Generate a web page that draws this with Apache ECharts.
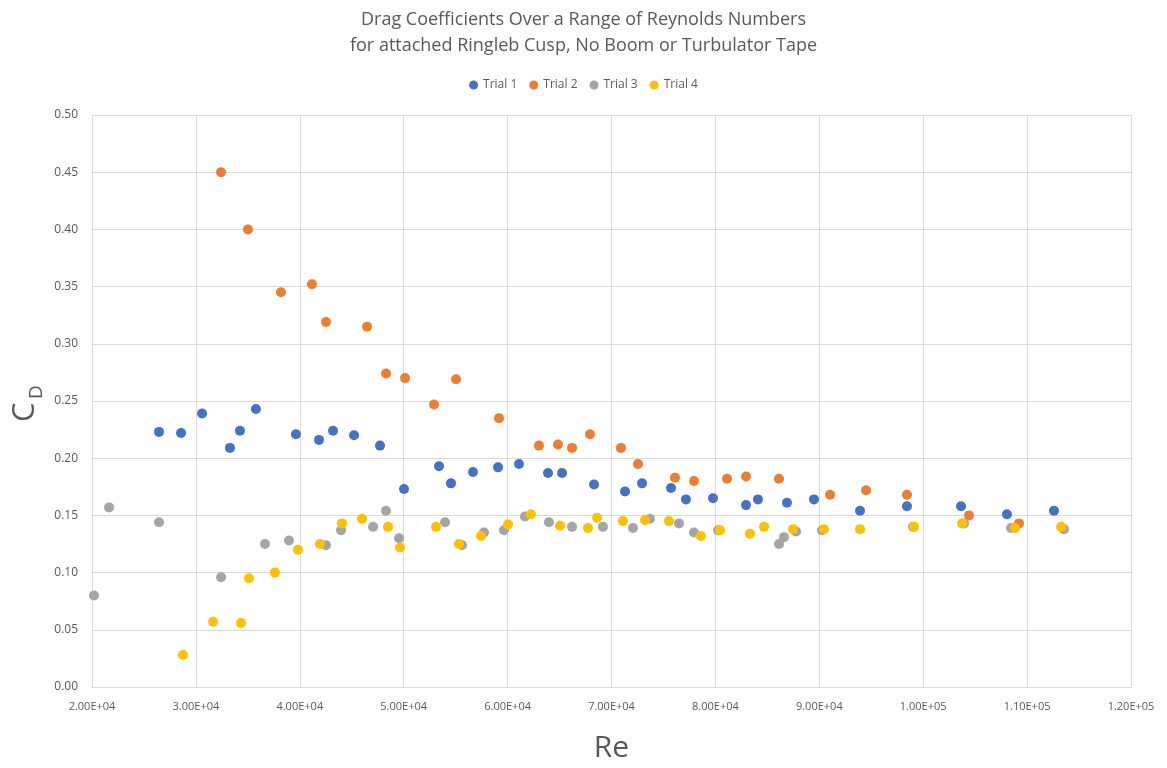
<!DOCTYPE html>
<html><head><meta charset="utf-8">
<script src="https://cdn.jsdelivr.net/npm/echarts@6/dist/echarts.min.js"></script>
<style>html,body{margin:0;padding:0;background:#fff}#c{width:1167px;height:768px}</style>
</head><body><div id="c"></div>
<script>
const trial1Re = [26450,28570,30590,33280,34240,35780,39630,41850,43200,45220,47720,50030,53400,54550,56670,59080,61100,63890,65240,68320,71300,72940,75730,77170,79770,82950,84100,86890,89490,93920,98440,103640,108060,112590];
const trial1Cd = [0.223,0.222,0.239,0.209,0.224,0.243,0.221,0.216,0.224,0.220,0.211,0.173,0.193,0.178,0.188,0.192,0.195,0.187,0.187,0.177,0.171,0.178,0.174,0.164,0.165,0.159,0.164,0.161,0.164,0.154,0.158,0.158,0.151,0.154];
const trial2Re = [32420,35010,38190,41170,42520,46470,48300,50130,52920,55040,59170,63020,64850,66200,67930,70910,72550,76110,77940,81120,82950,86120,91030,94500,98440,104410,109220];
const trial2Cd = [0.450,0.400,0.345,0.352,0.319,0.315,0.274,0.270,0.247,0.269,0.235,0.211,0.212,0.209,0.221,0.209,0.195,0.183,0.180,0.182,0.184,0.182,0.168,0.172,0.168,0.150,0.143];
const trial3Re = [20190,21640,26450,32420,36650,38960,42520,43970,47050,48300,49550,53980,55610,57730,59650,61670,63980,66200,69180,72070,73700,76500,77940,80250,86120,86600,87760,90260,99020,103930,108450,113550];
const trial3Cd = [0.080,0.157,0.144,0.096,0.125,0.128,0.124,0.137,0.140,0.154,0.130,0.144,0.124,0.135,0.137,0.149,0.144,0.140,0.140,0.139,0.147,0.143,0.135,0.137,0.125,0.131,0.136,0.137,0.140,0.143,0.139,0.138];
const trial4Re = [28760,31650,34340,35110,37610,39830,41940,44060,45990,48490,49640,53110,55320,57440,60040,62250,65040,67740,68610,71110,73220,75530,78610,80440,83330,84680,87470,90450,93920,99120,103740,108840,113270];
const trial4Cd = [0.028,0.057,0.056,0.095,0.100,0.120,0.125,0.143,0.147,0.140,0.122,0.140,0.125,0.132,0.142,0.151,0.141,0.139,0.148,0.145,0.146,0.145,0.132,0.137,0.134,0.140,0.138,0.138,0.138,0.140,0.143,0.139,0.140];
const seriesNames = ['Trial 1','Trial 2','Trial 3','Trial 4'];
const colors = ['#4472C4','#ED7D31','#A5A5A5','#FFC000'];
const titleText = 'Drag Coefficients Over a Range of Reynolds Numbers\nfor attached Ringleb Cusp, No Boom or Turbulator Tape';

const zip = (a,b) => a.map((v,i)=>[v,b[i]]);
const allData = [zip(trial1Re,trial1Cd), zip(trial2Re,trial2Cd), zip(trial3Re,trial3Cd), zip(trial4Re,trial4Cd)];

function sci(v){
  const e = Math.floor(Math.log10(v));
  const m = v/Math.pow(10,e);
  return m.toFixed(2)+'E+'+String(e).padStart(2,'0');
}

const chart = echarts.init(document.getElementById('c'));
chart.setOption({
  animation:false,
  color: colors,
  title:{ text:titleText, left:'center', top:2,
    textStyle:{ fontFamily:'Open Sans', fontSize:18, fontWeight:'normal', color:'#595959', lineHeight:26 } },
  legend:{ data:seriesNames, top:74, left:'center', icon:'circle', itemWidth:9, itemHeight:9, itemGap:12,
    textStyle:{ fontFamily:'Open Sans', fontSize:12, color:'#595959' } },
  grid:{ left:92, right:36, top:115, bottom:80 },
  xAxis:{ type:'value', min:20000, max:120000, interval:10000,
    axisLine:{ show:true, lineStyle:{ color:'#d9d9d9' } },
    axisTick:{ show:false },
    splitLine:{ show:true, lineStyle:{ color:'#d9d9d9' } },
    axisLabel:{ formatter:sci, color:'#595959', fontFamily:'Open Sans', fontSize:11, margin:14 },
    name:'Re', nameLocation:'middle', nameGap:46,
    nameTextStyle:{ fontFamily:'Open Sans', fontSize:30, color:'#595959' } },
  yAxis:{ type:'value', min:0, max:0.5, interval:0.05,
    axisLine:{ show:true, lineStyle:{ color:'#d9d9d9' } },
    axisTick:{ show:false },
    splitLine:{ show:true, lineStyle:{ color:'#d9d9d9' } },
    axisLabel:{ formatter:v=>v.toFixed(2), color:'#595959', fontFamily:'Open Sans', fontSize:12, margin:14 } },
  graphic:[{ type:'group', x:28, y:400, rotation:Math.PI/2, children:[
    { type:'text', x:-22, y:-18, style:{ text:'C', fontFamily:'Open Sans', fontSize:31, fill:'#595959' } },
    { type:'text', x:1, y:-1, style:{ text:'D', fontFamily:'Open Sans', fontSize:19, fill:'#595959' } }
  ]}],
  series: seriesNames.map((n,i)=>({ name:n, type:'scatter', data:allData[i], symbolSize:10,
    itemStyle:{ color:colors[i], opacity:1 } }))
});
</script></body></html>
